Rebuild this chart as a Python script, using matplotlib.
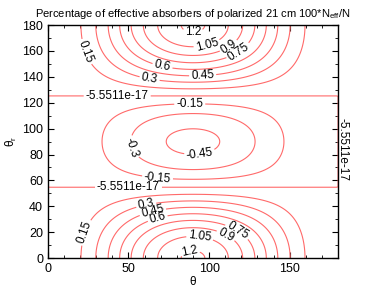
import numpy as np
import matplotlib
matplotlib.use("Agg")
import matplotlib.pyplot as plt
from matplotlib.ticker import MultipleLocator

plt.rcParams['font.family'] = ['Liberation Sans', 'DejaVu Sans']
plt.rcParams['mathtext.default'] = 'regular'

# angle grids (degrees)
theta = np.linspace(0, 180, 181)
theta_r = np.linspace(0, 180, 181)

# profile strengths: peak ~1.22 at theta_r=0, dip ~-0.49 at theta_r=90
amp_low = 0.49
amp_extra = 0.12

# contour levels (the zero level shows the float round-off of the original)
levels = [-0.45, -0.3, -0.15, -5.5511e-17, 0.15, 0.3, 0.45, 0.6, 0.75, 0.9, 1.05, 1.2]

# label spots (theta, theta_r)
label_spots = [(90, 172), (99, 163), (113, 162), (119, 158), (71, 148), (96, 141),
               (63, 138), (23, 159), (43, 125), (88, 118), (53, 86), (94, 82),
               (68, 62), (50, 55), (61, 41), (65, 36), (68, 31), (25, 19),
               (94, 14), (88, 6), (111, 19), (119, 24)]

T, TR = np.meshgrid(np.radians(theta), np.radians(theta_r))
p2 = 3 * np.cos(TR) ** 2 - 1
field = np.sin(T) ** 2 * p2 * (amp_low + amp_extra * np.cos(TR) ** 2)

fig = plt.figure(figsize=(3.74, 2.91), dpi=100)
ax = fig.add_axes([0.128, 0.113, 0.776, 0.801])

cs = ax.contour(theta, theta_r, field, levels=levels, colors='#ff6a6a',
                linewidths=0.8, linestyles='solid')
lbls = ax.clabel(cs, fmt='%.5g', fontsize=8.5, manual=label_spots, inline=True,
                 inline_spacing=2)
for t in lbls:
    t.set_color('black')

# stray label of the zero line hanging over the right edge
ax.text(182.5, 84, '-5.5511e-17', rotation=-90, fontsize=8.5, ha='center', va='center',
        clip_on=False)

ax.set_xlim(0, 180)
ax.set_ylim(0, 180)
ax.xaxis.set_major_locator(MultipleLocator(50))
ax.xaxis.set_minor_locator(MultipleLocator(10))
ax.yaxis.set_major_locator(MultipleLocator(20))
ax.yaxis.set_minor_locator(MultipleLocator(10))
ax.tick_params(which='both', direction='in', top=True, right=True, labelsize=9)
ax.tick_params(which='major', length=4, width=0.8)
ax.tick_params(which='minor', length=2, width=0.6)
for s in ax.spines.values():
    s.set_linewidth(1.0)

ax.set_xlabel('θ', fontsize=8.5, labelpad=1)
ax.set_ylabel('θ$_r$', fontsize=8.5, labelpad=2)
ax.set_title('Percentage of effective absorbers of polarized 21 cm 100*N$_{eff}$/N',
             fontsize=8, pad=6)

fig.savefig('out.png', dpi=100)
